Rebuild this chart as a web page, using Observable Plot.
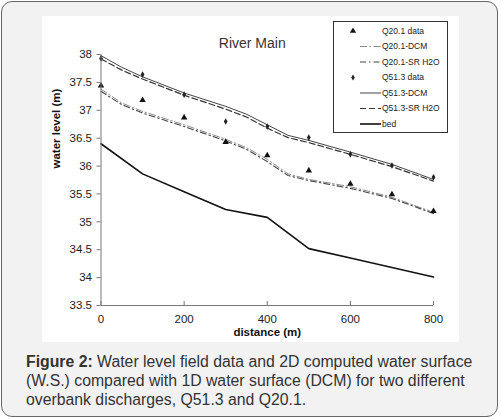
<!DOCTYPE html>
<html><head><meta charset="utf-8">
<script src="https://cdn.jsdelivr.net/npm/d3@7"></script>
<script src="https://cdn.jsdelivr.net/npm/@observablehq/plot@0.6"></script>
<style>
html,body{margin:0;padding:0;background:#fff;width:501px;height:419px;overflow:hidden;font-family:"Liberation Sans",Arial,sans-serif;}
#frame{position:absolute;left:1px;top:1px;width:497px;height:416px;box-sizing:border-box;border:1.5px solid #666;border-radius:11px;background:#f2f2f2;}
#panel{position:absolute;left:42px;top:16px;width:417px;height:326px;background:#fff;overflow:hidden;}
#panel svg{position:absolute;left:0;top:0;}
#legend{position:absolute;left:291px;top:5px;}
#caption{position:absolute;left:26px;top:352px;font-size:15.8px;line-height:19px;color:#333;white-space:nowrap;}
</style>
</head><body>
<div id="frame"></div>
<div id="panel"><div id="chart"></div><div id="legend"></div></div>
<div id="caption"><b>Figure 2:</b> Water level field data and 2D computed water surface<br>(W.S.) compared with 1D water surface (DCM) for two different<br>overbank discharges, Q51.3 and Q20.1.</div>
<script>
// ---- data ----
const pointDist = [0, 100, 200, 300, 400, 500, 600, 700, 800];
const q20Data = [37.44, 37.18, 36.87, 36.43, 36.19, 35.92, 35.68, 35.49, 35.19];
const q51Data = [37.93, 37.64, 37.28, 36.80, 36.71, 36.51, 36.21, 36.01, 35.80];

const lineDist = [0, 50, 100, 200, 300, 350, 400, 450, 500, 600, 700, 800];
const q51DCM = [37.98, 37.77, 37.60, 37.31, 37.07, 36.93, 36.74, 36.55, 36.46, 36.25, 36.03, 35.76];
const q51SR  = [37.92, 37.72, 37.56, 37.27, 37.02, 36.88, 36.68, 36.51, 36.42, 36.21, 35.99, 35.73];
const q20DCM = [37.38, 37.13, 36.98, 36.74, 36.48, 36.33, 36.12, 35.86, 35.76, 35.63, 35.44, 35.17];
const q20SR  = [37.34, 37.10, 36.95, 36.71, 36.45, 36.30, 36.08, 35.83, 35.74, 35.60, 35.42, 35.15];

const bedDist = [0, 100, 200, 300, 400, 500, 600, 700, 800];
const bed = [36.40, 35.86, 35.54, 35.22, 35.08, 34.52, 34.35, 34.18, 34.01];

const xTicks = [0, 200, 400, 600, 800];
const yTicks = [33.5, 34, 34.5, 35, 35.5, 36, 36.5, 37, 37.5, 38];

const titleText = "River Main";
const xLabel = "distance (m)";
const yLabel = "water level (m)";
const legendLabels = ["Q20.1 data", "Q20.1-DCM", "Q20.1-SR H2O", "Q51.3 data", "Q51.3-DCM", "Q51.3-SR H2O", "bed"];

// ---- build tables ----
const toRows = (xs, ys) => xs.map((d, i) => ({d, v: ys[i]}));
const pts20 = toRows(pointDist, q20Data);
const pts51 = toRows(pointDist, q51Data);

const styles = {
  q20DCM: {stroke: "#8a8a8a", strokeWidth: 1, strokeDasharray: "7,2.5,1.5,2.5"},
  q20SR:  {stroke: "#444", strokeWidth: 1.1, strokeDasharray: "6,3,1.5,3"},
  q51DCM: {stroke: "#444", strokeWidth: 1},
  q51SR:  {stroke: "#333", strokeWidth: 1.2, strokeDasharray: "6,3"},
  bed:    {stroke: "#111", strokeWidth: 1.6}
};

const chart = Plot.plot({
  width: 417, height: 326,
  marginLeft: 58.5, marginRight: 26, marginTop: 38, marginBottom: 37,
  style: {fontFamily: "Liberation Sans, Arial, sans-serif", fontSize: "11.5px", color: "#222", background: "transparent"},
  x: {domain: [0, 800]},
  y: {domain: [33.5, 38]},
  marks: [
    Plot.lineY(toRows(lineDist, q20DCM), {x: "d", y: "v", ...styles.q20DCM}),
    Plot.lineY(toRows(lineDist, q20SR), {x: "d", y: "v", ...styles.q20SR}),
    Plot.lineY(toRows(lineDist, q51DCM), {x: "d", y: "v", ...styles.q51DCM}),
    Plot.lineY(toRows(lineDist, q51SR), {x: "d", y: "v", ...styles.q51SR}),
    Plot.lineY(toRows(bedDist, bed), {x: "d", y: "v", ...styles.bed}),
    Plot.dot(pts20, {x: "d", y: "v", symbol: "triangle", r: 2.4, fill: "#111", stroke: null}),
    Plot.dot(pts51, {x: "d", y: "v", symbol: "diamond", r: 2.0, fill: "#222", stroke: null}),
    Plot.ruleX([0], {stroke: "#777"}),
    Plot.ruleY([33.5], {stroke: "#777"}),
    Plot.ruleX(xTicks, {y1: 33.5, y2: 33.5, insetTop: -4, stroke: "#777"}),
    Plot.axisY({ticks: yTicks, tickFormat: d => String(d), tickSize: 4, tickPadding: 5, stroke: "#777", fill: "#222", label: null}),
    Plot.axisX({ticks: xTicks, tickFormat: d => String(d), tickSize: 0, tickPadding: 9, fill: "#222", label: null}),
    Plot.text([yLabel], {frameAnchor: "left", text: d => d, rotate: -90, dx: -44.5, dy: -11.5, fontWeight: "bold", fill: "#111"}),
    Plot.text([xLabel], {frameAnchor: "bottom", text: d => d, dy: 30, fontWeight: "bold", fill: "#111"}),
    Plot.text([titleText], {frameAnchor: "top", text: d => d, dx: -15, dy: -16, fontSize: 14, fill: "#333"})
  ]
});
document.getElementById("chart").appendChild(chart);

// ---- legend ----
const lw = 116, lh = 113, rowY0 = 10, rowStep = 15.5;
const lg = d3.select("#legend").append("svg").attr("width", lw).attr("height", lh);
lg.append("rect").attr("x", 0.5).attr("y", 0.5).attr("width", lw - 2).attr("height", lh - 2)
  .attr("fill", "#fff").attr("stroke", "#333").attr("stroke-width", 1);
const legendKinds = [
  {sym: d3.symbolTriangle, size: 17, fill: "#111"},
  {line: styles.q20DCM},
  {line: styles.q20SR},
  {sym: d3.symbolDiamond, size: 11, fill: "#222"},
  {line: styles.q51DCM},
  {line: styles.q51SR},
  {line: styles.bed}
];
legendLabels.forEach((lab, i) => {
  const y = rowY0 + i * rowStep;
  const k = legendKinds[i];
  if (k.sym) {
    lg.append("path").attr("d", d3.symbol(k.sym, k.size)()).attr("transform", `translate(20,${y})`).attr("fill", k.fill);
  } else {
    lg.append("line").attr("x1", 27).attr("x2", 48).attr("y1", y).attr("y2", y)
      .attr("stroke", k.line.stroke).attr("stroke-width", k.line.strokeWidth)
      .attr("stroke-dasharray", k.line.strokeDasharray || null);
  }
  lg.append("text").attr("x", 49).attr("y", y).attr("dy", "0.35em")
    .attr("font-family", "Liberation Sans, Arial, sans-serif").attr("font-size", 8.5).attr("fill", "#222").text(lab);
});
</script>
</body></html>
